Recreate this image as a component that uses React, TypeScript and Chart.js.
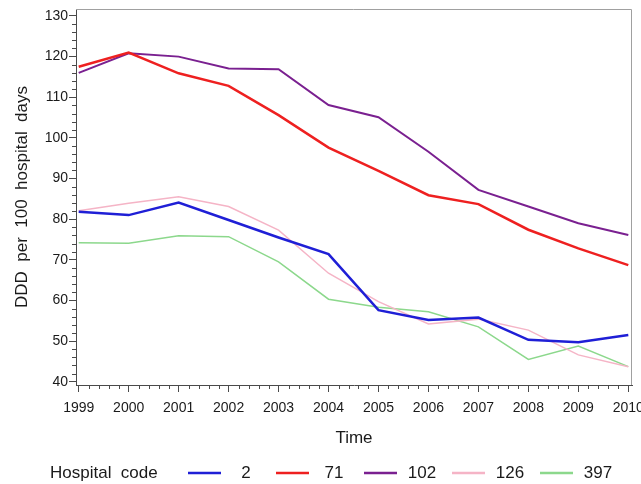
import React, { useEffect, useRef } from "react";
import { Chart, registerables } from "chart.js";

Chart.register(...registerables);

// Antibiotic use per hospital, DDD per 100 hospital days, 1999-2010
const YEARS = [1999, 2000, 2001, 2002, 2003, 2004, 2005, 2006, 2007, 2008, 2009, 2010];
const Y_TICKS = [40, 50, 60, 70, 80, 90, 100, 110, 120, 130];
const HOSPITAL_CODES = ["2", "71", "102", "126", "397"];

const DDD_H2 = [81.8, 81.0, 84.1, 79.8, 75.5, 71.4, 57.6, 55.2, 55.8, 50.3, 49.7, 51.5];
const DDD_H71 = [117.5, 121.0, 115.9, 112.8, 105.6, 97.6, 91.9, 85.9, 83.7, 77.4, 72.8, 68.7];
const DDD_H102 = [116.0, 120.8, 120.0, 117.1, 116.9, 108.1, 105.1, 96.6, 87.2, 83.1, 79.0, 76.1];
const DDD_H126 = [82.1, 83.9, 85.5, 83.1, 77.3, 66.7, 59.7, 54.2, 55.4, 52.7, 46.6, 43.7];
const DDD_H397 = [74.2, 74.1, 75.9, 75.7, 69.5, 60.3, 58.3, 57.2, 53.5, 45.5, 48.8, 43.7];

const SERIES = [DDD_H2, DDD_H71, DDD_H102, DDD_H126, DDD_H397];
const COLORS = ["#1f1fd6", "#ee2020", "#7a2090", "#f5b4c6", "#8cd88c"];
const WIDTHS = [2.5, 2.5, 2, 1.5, 1.5];

const X_MIN = 1998.946;
const X_MAX = 2010.074;
const Y_MIN = 39.19;
const Y_MAX = 131.72;

const MINOR_X_STEP = 0.2;
const MINOR_Y_STEP = 2;

const TICK_FAMILY = "'Liberation Sans', Arial, sans-serif";
const TEXT_FAMILY = "'Liberation Sans', Arial, sans-serif";
const TEXT_COLOR = "#1a1a1a";
const AXIS_COLOR = "#4a4a4a";
const FRAME_COLOR = "#a0a0a0";

const framePlugin = {
  id: "frame",
  beforeDatasetsDraw(chart: any) {
    const { ctx, chartArea } = chart;
    const { left, top, right, bottom } = chartArea;
    ctx.save();
    ctx.strokeStyle = FRAME_COLOR;
    ctx.lineWidth = 1;
    ctx.beginPath();
    ctx.moveTo(left, top + 0.5);
    ctx.lineTo(right - 0.5, top + 0.5);
    ctx.lineTo(right - 0.5, bottom);
    ctx.stroke();
    ctx.restore();
  },
};

const minorTickPlugin = {
  id: "minorTicks",
  afterDraw(chart: any) {
    const { ctx, chartArea, scales } = chart;
    const x = scales.x;
    const y = scales.y;
    ctx.save();
    ctx.strokeStyle = AXIS_COLOR;
    ctx.lineWidth = 1;
    ctx.beginPath();
    for (let i = 0; i < YEARS.length - 1; i++) {
      for (let k = 1; k < 5; k++) {
        const px = Math.round(x.getPixelForValue(YEARS[i] + k * MINOR_X_STEP)) + 0.5;
        ctx.moveTo(px, chartArea.bottom);
        ctx.lineTo(px, chartArea.bottom + 4);
      }
    }
    for (let i = 0; i < Y_TICKS.length - 1; i++) {
      for (let k = 1; k < 5; k++) {
        const py = Math.round(y.getPixelForValue(Y_TICKS[i] + k * MINOR_Y_STEP)) + 0.5;
        ctx.moveTo(chartArea.left - 4, py);
        ctx.lineTo(chartArea.left, py);
      }
    }
    ctx.stroke();
    ctx.restore();
  },
};

const legendPlugin = {
  id: "inlineLegend",
  afterDraw(chart: any) {
    const { ctx } = chart;
    const cy = 473;
    ctx.save();
    ctx.font = `17px ${TEXT_FAMILY}`;
    ctx.fillStyle = TEXT_COLOR;
    ctx.textBaseline = "middle";
    ctx.textAlign = "left";
    ctx.fillText("Hospital  code", 50, cy);
    chart.data.datasets.forEach((ds: any, i: number) => {
      const x0 = 188 + i * 88;
      ctx.strokeStyle = ds.borderColor;
      ctx.lineWidth = 2.5;
      ctx.beginPath();
      ctx.moveTo(x0, cy);
      ctx.lineTo(x0 + 33, cy);
      ctx.stroke();
      ctx.textAlign = "center";
      ctx.fillText(ds.label, x0 + 58, cy);
    });
    ctx.restore();
  },
};

export default function App() {
  const canvasRef = useRef<HTMLCanvasElement | null>(null);

  useEffect(() => {
    const canvas = canvasRef.current;
    if (!canvas) return;
    const chart = new Chart(canvas, {
      type: "line",
      data: {
        datasets: HOSPITAL_CODES.map((code, i) => ({
          label: code,
          data: YEARS.map((yr, j) => ({ x: yr, y: SERIES[i][j] })),
          borderColor: COLORS[i],
          backgroundColor: COLORS[i],
          borderWidth: WIDTHS[i],
          pointRadius: 0,
          tension: 0,
          fill: false,
        })),
      },
      options: {
        animation: false,
        responsive: false,
        events: [],
        layout: { padding: { left: 0, top: 9, right: 9, bottom: 32 } },
        plugins: {
          legend: { display: false },
          tooltip: { enabled: false },
        },
        scales: {
          x: {
            type: "linear",
            min: X_MIN,
            max: X_MAX,
            afterBuildTicks: (s: any) => {
              s.ticks = YEARS.map((v) => ({ value: v }));
            },
            afterFit: (s: any) => {
              s.height = 67;
              s.paddingLeft = 0;
              s.paddingRight = 0;
            },
            grid: {
              drawOnChartArea: false,
              drawTicks: true,
              tickLength: 7,
              tickColor: AXIS_COLOR,
              tickWidth: 1,
            },
            border: { color: AXIS_COLOR, width: 1 },
            ticks: {
              autoSkip: false,
              maxRotation: 0,
              padding: 8,
              color: TEXT_COLOR,
              font: { family: TICK_FAMILY, size: 14 },
              callback: (v: any) => String(v),
            },
            title: {
              display: true,
              text: "Time",
              color: TEXT_COLOR,
              font: { family: TEXT_FAMILY, size: 17 },
              padding: { top: 0, bottom: 3 },
            },
          },
          y: {
            type: "linear",
            min: Y_MIN,
            max: Y_MAX,
            afterBuildTicks: (s: any) => {
              s.ticks = Y_TICKS.map((v) => ({ value: v }));
            },
            afterFit: (s: any) => {
              s.width = 76;
              s.paddingTop = 0;
              s.paddingBottom = 0;
            },
            grid: {
              drawOnChartArea: false,
              drawTicks: true,
              tickLength: 7,
              tickColor: AXIS_COLOR,
              tickWidth: 1,
            },
            border: { color: AXIS_COLOR, width: 1 },
            ticks: {
              padding: 1,
              color: TEXT_COLOR,
              font: { family: TICK_FAMILY, size: 14 },
              callback: (v: any) => String(v),
            },
            title: {
              display: true,
              text: "DDD  per  100  hospital  days",
              color: TEXT_COLOR,
              font: { family: TEXT_FAMILY, size: 17 },
              padding: { top: 12, bottom: 0 },
            },
          },
        },
      },
      plugins: [framePlugin, minorTickPlugin, legendPlugin],
    } as any);
    return () => chart.destroy();
  }, []);

  return (
    <div style={{ position: "absolute", left: 0, top: 0, width: 641, height: 484, background: "#fff" }}>
      <canvas ref={canvasRef} width={641} height={484} style={{ display: "block" }} />
    </div>
  );
}
